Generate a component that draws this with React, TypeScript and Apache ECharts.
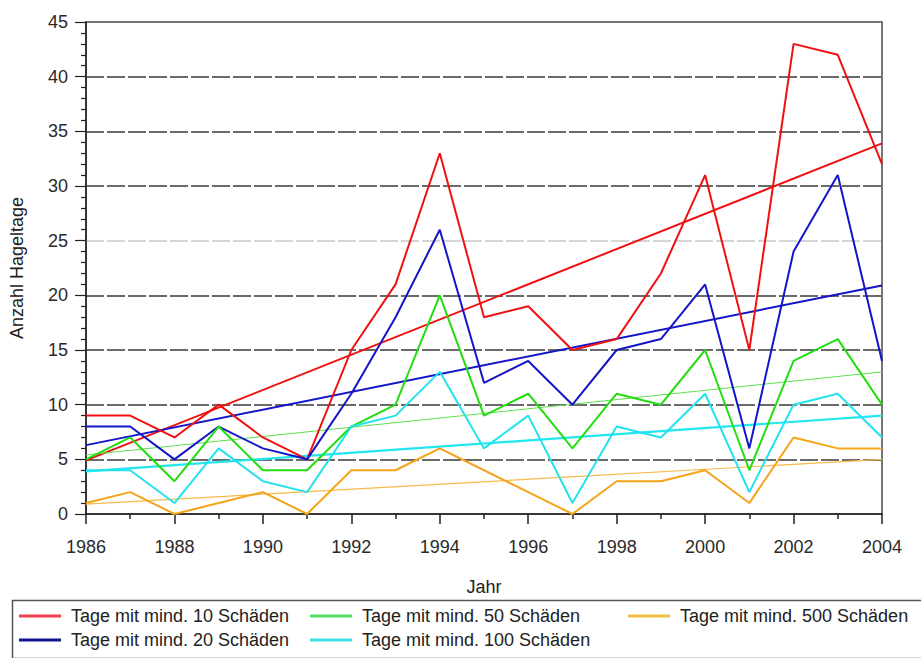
import React, { useEffect, useRef } from "react";
import * as echarts from "echarts";

const years: number[] = [1986, 1987, 1988, 1989, 1990, 1991, 1992, 1993, 1994, 1995, 1996, 1997, 1998, 1999, 2000, 2001, 2002, 2003, 2004];

const seriesNames: string[] = [
  "Tage mit mind. 10 Schäden",
  "Tage mit mind. 20 Schäden",
  "Tage mit mind. 50 Schäden",
  "Tage mit mind. 100 Schäden",
  "Tage mit mind. 500 Schäden",
];

const min10: number[] = [9, 9, 7, 10, 7, 5, 15, 21, 33, 18, 19, 15, 16, 22, 31, 15, 43, 42, 32];
const min20: number[] = [8, 8, 5, 8, 6, 5, 11, 18, 26, 12, 14, 10, 15, 16, 21, 6, 24, 31, 14];
const min50: number[] = [5, 7, 3, 8, 4, 4, 8, 10, 20, 9, 11, 6, 11, 10, 15, 4, 14, 16, 10];
const min100: number[] = [4, 4, 1, 6, 3, 2, 8, 9, 13, 6, 9, 1, 8, 7, 11, 2, 10, 11, 7];
const min500: number[] = [1, 2, 0, 1, 2, 0, 4, 4, 6, 4, 2, 0, 3, 3, 4, 1, 7, 6, 6];

// trend line end values (1986, 2004)
const trend10: number[] = [4.9, 33.9];
const trend20: number[] = [6.3, 20.9];
const trend50: number[] = [5.4, 13.0];
const trend100: number[] = [3.9, 9.0];
const trend500: number[] = [0.9, 5.0];

const yTicks: number[] = [0, 5, 10, 15, 20, 25, 30, 35, 40, 45];

const FONT = "'Liberation Sans', Arial, sans-serif";

export default function App() {
  const ref = useRef<HTMLDivElement>(null);

  useEffect(() => {
    if (!ref.current) return;
    const chart = echarts.init(ref.current, undefined, { renderer: "svg" });

    const colors = ["#f01010", "#1414c8", "#22dd10", "#22e2ee", "#f5a318"];
    const legendColors = ["#f04050", "#141490", "#55e060", "#40e0e0", "#f0c040"];
    const trendColors = ["#f01010", "#1414c8", "#5ee04e", "#22e6f0", "#f7b948"];
    const trendWidths = [2, 2, 1, 2.2, 1.2];
    const dataArrays = [min10, min20, min50, min100, min500];
    const trends = [trend10, trend20, trend50, trend100, trend500];

    const dataSeries = dataArrays.map((arr, i) => ({
      name: seriesNames[i],
      type: "line",
      symbol: "none",
      data: years.map((y, k) => [y, arr[k]]),
      lineStyle: { color: colors[i], width: 2 },
      itemStyle: { color: colors[i] },
      z: 3,
    }));

    const trendSeries = trends.map((t, i) => ({
      name: "Trend " + i,
      type: "line",
      symbol: "none",
      data: [
        [years[0], t[0]],
        [years[years.length - 1], t[1]],
      ],
      lineStyle: { color: trendColors[i], width: trendWidths[i] },
      itemStyle: { color: trendColors[i] },
      z: 2,
    }));

    const dark = "#3a3a3a";
    const light = "#c8c8c8";
    const splitColors = yTicks.map((v, idx) =>
      idx === 0 || idx === yTicks.length - 1 ? "rgba(0,0,0,0)" : v === 25 ? light : dark
    );

    const legendText = { fontFamily: FONT, fontSize: 18, color: "#222", padding: [0, 0, 0, 5] };
    const legendItem = (i: number) => ({
      name: seriesNames[i],
      icon: "rect",
      itemStyle: { color: legendColors[i] },
    });
    const legendCommon = {
      orient: "vertical",
      top: 602,
      itemWidth: 42,
      itemHeight: 3,
      itemGap: 6,
      textStyle: legendText,
      selectedMode: false,
    };

    chart.setOption({
      animation: false,
      backgroundColor: "#ffffff",
      grid: {
        left: 86,
        right: 39,
        top: 22,
        bottom: 144,
        show: true,
        borderColor: "#4a4a4a",
        borderWidth: 1.5,
        backgroundColor: "transparent",
      },
      legend: [
        { ...legendCommon, left: 14, data: [legendItem(0), legendItem(1)] },
        { ...legendCommon, left: 305, data: [legendItem(2), legendItem(3)] },
        { ...legendCommon, left: 623, data: [legendItem(4)] },
      ],
      xAxis: {
        type: "value",
        min: 1986,
        max: 2004,
        interval: 2,
        name: "Jahr",
        nameLocation: "middle",
        nameGap: 64,
        nameTextStyle: { fontFamily: FONT, fontSize: 18, color: "#222" },
        axisLine: { show: true, lineStyle: { color: "#222", width: 1.5 } },
        axisTick: { show: true, length: 10, lineStyle: { color: "#222", width: 1.5 } },
        minorTick: { show: true, splitNumber: 2, length: 5, lineStyle: { color: "#222", width: 1.5 } },
        axisLabel: {
          fontFamily: FONT,
          fontSize: 18,
          color: "#2a2a2a",
          margin: 24,
          formatter: (v: number) => String(v),
        },
        splitLine: { show: false },
      },
      yAxis: {
        type: "value",
        min: 0,
        max: 45,
        interval: 5,
        name: "Anzahl Hageltage",
        nameLocation: "middle",
        nameGap: 60,
        nameTextStyle: { fontFamily: FONT, fontSize: 18, color: "#222" },
        axisLine: { show: true, lineStyle: { color: "#222", width: 1.5 } },
        axisTick: { show: true, length: 11, lineStyle: { color: "#222", width: 1.2 } },
        minorTick: { show: true, splitNumber: 5, length: 5, lineStyle: { color: "#222", width: 1.2 } },
        axisLabel: {
          fontFamily: FONT,
          fontSize: 18,
          color: "#2a2a2a",
          margin: 18,
        },
        splitLine: {
          show: true,
          lineStyle: { color: splitColors, width: 1.5, type: [18, 3] },
        },
      },
      graphic: [
        {
          type: "rect",
          left: 10,
          top: 598,
          shape: { width: 920, height: 58 },
          style: { fill: "none", stroke: "#555", lineWidth: 1.5 },
          z: 0,
        },
      ],
      series: [...trendSeries, ...dataSeries],
    });

    return () => chart.dispose();
  }, []);

  return <div ref={ref} style={{ width: 921, height: 658, position: "absolute", left: 0, top: 0 }} />;
}
